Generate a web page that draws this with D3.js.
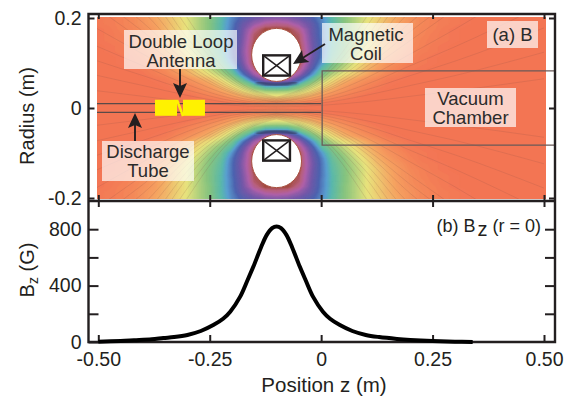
<!DOCTYPE html>
<html>
<head>
  <meta charset="utf-8">
  <title>Magnetic field</title>
  <script src="https://cdnjs.cloudflare.com/ajax/libs/d3/7.8.5/d3.min.js"></script>
<style>
body{
  margin: 0;
  background: white;
}
text{
  font-family: "Liberation Sans", Arial, sans-serif;
  fill: #231f20;
}
.axis path{
  display: none;
}
.axis line{
  stroke: #231f20;
  stroke-width: 2;
}
.axis text{
  font-size: 19.5px;
  font-family: "Liberation Sans", Arial, sans-serif;
  fill: #231f20;
}
.title{
  font-size: 20px;
}
.note{
  font-size: 18.5px;
  text-anchor: middle;
  fill: #2b2b2b;
}
.notebox{
  fill: white;
  opacity: 0.68;
}
</style>
</head>
<body>
<div id="chart"></div>
<script>
// Bz on the axis, panel (b)
var zPos = [-0.5,-0.45,-0.42,-0.38,-0.354,-0.33,-0.3,-0.27,-0.242,-0.22,-0.204,-0.182,-0.165,-0.152,-0.135,-0.122,-0.11,-0.1,-0.09,-0.078,-0.065,-0.048,-0.035,-0.018,0.004,0.02,0.042,0.07,0.1,0.13,0.17,0.2,0.25,0.3,0.34];
var bzVal = [2,7,12,19,28,35,50,78,120,165,215,320,440,535,670,760,808,820,808,760,670,535,440,320,215,165,120,78,50,35,22,15,7,2,0];

var zTicks = [-0.5,-0.25,0,0.25,0.5];
var zTickLabels = ["-0.50","-0.25","0","0.25","0.50"];
var rTicks = [-0.2,0,0.2];
var rTickLabels = ["-0.2","0","0.2"];
var bzTicks = [0,200,400,600,800];
var bzTickLabels = ["0","","400","","800"];

// colour level of |B|, one quadrant around the coil.
// columns: distance from coil plane, rows: radius
var coilZ = -0.1;
var gridStep = 0.025, rStep = 0.0125;
var levelR00 = [.03,.02,.01,0,0,0,0,0,0,0,0,0,0,0,0,0,0,0,0,0,0,0,0,0,0];
var levelR01 = [.07,.06,.05,.03,.02,.01,0,0,0,0,0,0,0,0,0,0,0,0,0,0,0,0,0,0,0];
var levelR02 = [.22,.21,.18,.14,.10,.06,.04,.02,0,0,0,0,0,0,0,0,0,0,0,0,0,0,0,0,0];
var levelR03 = [.35,.34,.30,.24,.17,.12,.08,.05,.03,.01,0,0,0,0,0,0,0,0,0,0,0,0,0,0,0];
var levelR04 = [.58,.56,.44,.33,.25,.18,.12,.08,.05,.03,.01,0,0,0,0,0,0,0,0,0,0,0,0,0,0];
var levelR05 = [.82,.80,.66,.46,.33,.24,.17,.12,.08,.05,.02,.01,0,0,0,0,0,0,0,0,0,0,0,0,0];
var levelR06 = [.90,.90,.82,.62,.42,.32,.25,.20,.14,.09,.05,.03,.01,0,0,0,0,0,0,0,0,0,0,0,0];
var levelR07 = [.95,.95,.90,.72,.50,.39,.31,.24,.17,.12,.07,.04,.02,.01,0,0,0,0,0,0,0,0,0,0,0];
var levelR08 = [.95,.95,.95,.76,.58,.43,.35,.27,.20,.14,.09,.06,.03,.02,.01,0,0,0,0,0,0,0,0,0,0];
var levelR09 = [.95,.95,.95,.78,.62,.46,.38,.30,.23,.16,.11,.07,.04,.02,.01,0,0,0,0,0,0,0,0,0,0];
var levelR10 = [.95,.95,.95,.79,.63,.48,.39,.32,.25,.18,.13,.09,.05,.03,.02,.01,0,0,0,0,0,0,0,0,0];
var levelR11 = [.95,.95,.95,.78,.63,.49,.40,.33,.26,.20,.14,.10,.06,.04,.02,.01,0,0,0,0,0,0,0,0,0];
var levelR12 = [.95,.95,.93,.77,.63,.50,.40,.33,.26,.20,.15,.10,.07,.04,.03,.02,.01,0,0,0,0,0,0,0,0];
var levelR13 = [.95,.95,.92,.76,.62,.50,.40,.33,.26,.21,.15,.11,.07,.05,.03,.02,.01,0,0,0,0,0,0,0,0];
var levelR14 = [.95,.95,.88,.75,.62,.50,.39,.33,.26,.21,.16,.11,.08,.05,.04,.02,.01,0,0,0,0,0,0,0,0];
var levelR15 = [.88,.86,.80,.73,.61,.50,.39,.33,.26,.21,.16,.12,.09,.06,.04,.03,.02,.01,0,0,0,0,0,0,0];
var levelR16 = [.78,.77,.74,.68,.60,.49,.39,.33,.27,.22,.17,.13,.09,.06,.04,.03,.02,.01,0,0,0,0,0,0,0];
var levelRows = [levelR00,levelR01,levelR02,levelR03,levelR04,levelR05,levelR06,levelR07,levelR08,levelR09,levelR10,levelR11,levelR12,levelR13,levelR14,levelR15,levelR16];

var levelStops = [0,.12,.25,.38,.5,.56,.65,.74,.84,.9,.95];
var levelColors = ["#f37453","#f5a060","#e9e37c","#88c47e","#5ab8ac","#5a9fd0","#4d62ae","#7058a8","#b060a8","#b8607c","#a04838"];

// field lines, radius at these distances from the coil plane
var lineDz = [0,0.1,0.2,0.3,0.4,0.6];
var fieldLines = [
  [.002,.006,.014,.026,.038,.065],
  [.004,.011,.028,.050,.072,.124],
  [.006,.016,.040,.072,.104,.178],
  [.008,.021,.052,.094,.136,.230],
  [.010,.027,.066,.120,.175,.300],
  [.012,.033,.082,.150,.220,.370],
  [.013,.036,.091,.170,.245,.410],
  [.014,.040,.100,.190,.270,.450],
  [.016,.044,.112,.215,.305,.505],
  [.017,.048,.125,.240,.340,.560],
  [.019,.053,.140,.270,.380,.630],
  [.020,.058,.155,.300,.420,.700],
  [.022,.064,.178,.335,.470,.775],
  [.024,.070,.200,.370,.520,.850]
];

var dx = 574, dy = 401;
var frameL = 88.5, frameR = 555, frameT = 14, frameM = 201, frameB = 342;

var svg = d3.select("#chart").append("svg")
  .attr("width", dx)
  .attr("height", dy);

var defs = svg.append("defs");
var clip = defs.append("clipPath").attr("id", "heatclip").append("rect");
defs.append("filter").attr("id", "soft")
  .append("feGaussianBlur").attr("stdDeviation", 0.9);
defs.append("filter").attr("id", "softer")
  .append("feGaussianBlur").attr("stdDeviation", 0.5);

var z = d3.scaleLinear().domain([-0.5,0.5]).range([98.3,544]);
var r = d3.scaleLinear().domain([-0.2,0.2]).range([198,18]);
var bz = d3.scaleLinear().domain([0,1000]).range([frameB,frameM]);

var heatL = 97, heatR = 546;
clip.attr("x", heatL).attr("y", r(0.2)-1)
  .attr("width", heatR-heatL).attr("height", r(-0.2)-r(0.2)+2);

// full grid from the quadrant
var nCols = 41, nRows = 33;
var grid = [];
for (var j = 0; j < nRows; j++) {
  for (var i = 0; i < nCols; i++) {
    var zi = -0.5 + i*gridStep;
    grid.push(levelRows[Math.abs(j-16)][Math.round(Math.abs(zi-coilZ)/gridStep)]);
  }
}

var color = d3.scaleLinear().domain(levelStops).range(levelColors).clamp(true);
var contours = d3.contours().size([nCols,nRows]).thresholds(d3.range(0.005,0.96,0.01))(grid);
var gridPath = d3.geoPath(d3.geoTransform({
  point: function (x, y) {
    this.stream.point(z(-0.5+(x-0.5)*gridStep), r(0.2-(y-0.5)*rStep));
  }
}));

var heat = svg.append("g").attr("clip-path", "url(#heatclip)");
var heatInner = heat.append("g").attr("filter", "url(#softer)");
heatInner.append("rect")
  .attr("x", heatL-5).attr("y", r(0.2)-5)
  .attr("width", heatR-heatL+10).attr("height", r(-0.2)-r(0.2)+10)
  .attr("fill", color(0));
heatInner.selectAll(".band")
  .data(contours)
  .enter().append("path")
  .attr("class", "band")
  .attr("d", gridPath)
  .attr("fill", d => color(d.value))
  .attr("stroke", d => color(d.value))
  .attr("stroke-width", 0.4);

// field lines, all four quadrants
var lineGen = d3.line().curve(d3.curveMonotoneX);
[-1,1].forEach(function (side) {
  [-1,1].forEach(function (up) {
    heat.selectAll(null)
      .data(fieldLines)
      .enter().append("path")
      .attr("d", d => lineGen(d.map((v,k) => [z(coilZ+side*lineDz[k]), r(up*v)])))
      .attr("fill", "none")
      .attr("stroke", "#7a4a44")
      .attr("stroke-width", 0.5)
      .attr("opacity", 0.32);
  });
});

// dark rim on the axis side of the coils
var rimDz = [-0.046,-0.03,-0.015,0,0.015,0.03,0.046];
var rimR = [0.057,0.054,0.052,0.0515,0.052,0.054,0.057];
[-1,1].forEach(function (up) {
  heat.append("path")
    .attr("d", d3.line().curve(d3.curveCatmullRom)(rimDz.map((v,k) => [z(coilZ+v), r(up*rimR[k])])))
    .attr("fill", "none")
    .attr("stroke", "#2c2238")
    .attr("stroke-width", 3)
    .attr("opacity", 0.55)
    .attr("filter", "url(#soft)");

  // saturated hole round the coil
  heat.append("ellipse")
    .attr("cx", z(coilZ)).attr("cy", r(up*0.118))
    .attr("rx", z(0.056)-z(0)).attr("ry", r(0)-r(0.059))
    .attr("fill", "white")
    .attr("stroke", "#a85040")
    .attr("stroke-width", 1)
    .attr("filter", "url(#softer)");
});

// discharge tube and vacuum chamber
var tubeR = 0.0098, chamberR = 0.0825;
[-1,1].forEach(function (up) {
  svg.append("line")
    .attr("x1", heatL).attr("x2", z(0))
    .attr("y1", r(up*tubeR)).attr("y2", r(up*tubeR))
    .attr("stroke", "#5a4a48").attr("stroke-width", 1.2);
});
svg.append("path")
  .attr("d", d3.line()([[frameR,r(chamberR)],[z(0)+1,r(chamberR)],[z(0)+1,r(-chamberR)],[frameR,r(-chamberR)]]))
  .attr("fill", "none")
  .attr("stroke", "#6a5a58")
  .attr("stroke-width", 1.3);

// double loop antenna
var antZ = [-0.3728,-0.3234,-0.31,-0.2607];
var antR = 0.0178, antMidR = 0.0005;
svg.append("rect")
  .attr("x", z(antZ[0])).attr("y", r(antR+antMidR))
  .attr("width", z(antZ[1])-z(antZ[0])).attr("height", r(-antR)-r(antR))
  .attr("fill", "#fff200");
svg.append("rect")
  .attr("x", z(antZ[2])).attr("y", r(antR+antMidR))
  .attr("width", z(antZ[3])-z(antZ[2])).attr("height", r(-antR)-r(antR))
  .attr("fill", "#fff200");
svg.append("line")
  .attr("x1", z(antZ[1])).attr("x2", z(antZ[2]))
  .attr("y1", r(antR)).attr("y2", r(-antR))
  .attr("stroke", "#fff200").attr("stroke-width", 2.5);

// magnetic coil boxes
var coilHalf = 0.03, coilIn = 0.072, coilOut = 0.117;
[-1,1].forEach(function (up) {
  var x0 = z(coilZ-coilHalf), x1 = z(coilZ+coilHalf);
  var y0 = r(up*coilOut), y1 = r(up*coilIn);
  var g = svg.append("g").attr("stroke", "#231f20").attr("stroke-width", 2.4);
  g.append("rect")
    .attr("x", x0).attr("y", Math.min(y0,y1))
    .attr("width", x1-x0).attr("height", Math.abs(y1-y0))
    .attr("fill", "white");
  g.append("line").attr("x1", x0).attr("x2", x1).attr("y1", y0).attr("y2", y1).attr("stroke-width", 1.6);
  g.append("line").attr("x1", x0).attr("x2", x1).attr("y1", y1).attr("y2", y0).attr("stroke-width", 1.6);
});

// boxed notes
function note(lines, cx, baselines, box) {
  svg.append("rect")
    .attr("class", "notebox")
    .attr("x", box[0]).attr("y", box[1])
    .attr("width", box[2]-box[0]).attr("height", box[3]-box[1]);
  lines.forEach(function (s, k) {
    svg.append("text")
      .attr("class", "note")
      .attr("x", cx).attr("y", baselines[k])
      .text(s);
  });
}
note(["Double Loop","Antenna"], 181, [47.5,66.5], [124,30,237,69]);
note(["Magnetic","Coil"], 366, [41,60], [322,23,413,63]);
note(["(a) B"], 512.5, [41], [487,21,538,48]);
note(["Vacuum","Chamber"], 470.5, [105,124], [425,88,516,127]);
note(["Discharge","Tube"], 148, [158,177], [102,141,194,181]);

// arrows
function arrow(x0, y0, x1, y1) {
  var a = Math.atan2(y1-y0, x1-x0);
  var p = (d, s) => [x1-d*Math.cos(a)-s*Math.sin(a), y1-d*Math.sin(a)+s*Math.cos(a)];
  svg.append("line")
    .attr("x1", x0).attr("y1", y0)
    .attr("x2", p(9,0)[0]).attr("y2", p(9,0)[1])
    .attr("stroke", "#231f20").attr("stroke-width", 1.9);
  svg.append("path")
    .attr("d", d3.line()([[x1,y1],p(15,7),p(12,0),p(15,-7)])+"Z")
    .attr("fill", "#231f20");
}
arrow(180,69,180,98);
arrow(325,44,293,64);
arrow(135,141,135,113);

// frames
svg.append("path")
  .attr("d", `M${frameL},${frameT}H${frameR}V${frameB}H${frameL}Z`)
  .attr("fill", "none").attr("stroke", "#231f20").attr("stroke-width", 2.4);
svg.append("line")
  .attr("x1", frameL).attr("x2", frameR).attr("y1", frameM).attr("y2", frameM)
  .attr("stroke", "#231f20").attr("stroke-width", 2.4);

function zLabel(d) { return zTickLabels[zTicks.indexOf(d)]; }

svg.append("g").attr("class","axis").attr("transform",`translate(0,${frameT})`)
  .call(d3.axisTop(z).tickValues(zTicks).tickSize(-5).tickFormat(""));
svg.append("g").attr("class","axis").attr("transform",`translate(0,${frameM})`)
  .call(d3.axisBottom(z).tickValues(zTicks).tickSize(-6).tickFormat(""));
svg.append("g").attr("class","axis").attr("transform",`translate(0,${frameM})`)
  .call(d3.axisTop(z).tickValues(zTicks).tickSize(-6).tickFormat(""));
svg.append("g").attr("class","axis").attr("transform",`translate(0,${frameB})`)
  .call(d3.axisBottom(z).tickValues(zTicks).tickSize(-7).tickPadding(10.5).tickFormat(zLabel));

svg.append("g").attr("class","axis").attr("transform",`translate(${frameL},0)`)
  .call(d3.axisLeft(r).tickValues(rTicks).tickSize(-6).tickPadding(7).tickFormat(d => rTickLabels[rTicks.indexOf(d)]));
svg.append("g").attr("class","axis").attr("transform",`translate(${frameR},0)`)
  .call(d3.axisRight(r).tickValues(rTicks).tickSize(-6).tickFormat(""));

svg.append("g").attr("class","axis").attr("transform",`translate(${frameL},0)`)
  .call(d3.axisLeft(bz).tickValues(bzTicks).tickSize(-10).tickPadding(7).tickFormat(d => bzTickLabels[bzTicks.indexOf(d)]));
svg.append("g").attr("class","axis").attr("transform",`translate(${frameR},0)`)
  .call(d3.axisRight(bz).tickValues(bzTicks.slice(1)).tickSize(-10).tickFormat(""));

// Bz curve
svg.append("path")
  .datum(zPos.map((v,k) => [v,bzVal[k]]))
  .attr("d", d3.line().x(d => z(d[0])).y(d => bz(d[1])).curve(d3.curveCatmullRom))
  .attr("fill", "none")
  .attr("stroke", "black")
  .attr("stroke-width", 4);

// titles
svg.append("text")
  .attr("class","title")
  .attr("transform","translate(34,116) rotate(-90)")
  .attr("text-anchor","middle")
  .text("Radius (m)");
var bzTitle = svg.append("text")
  .attr("class","title")
  .attr("transform","translate(34,270) rotate(-90)")
  .attr("text-anchor","middle");
bzTitle.append("tspan").text("B");
bzTitle.append("tspan").attr("dy",4).attr("font-size",14).text("z");
bzTitle.append("tspan").attr("dy",-4).text(" (G)");
svg.append("text")
  .attr("class","title")
  .attr("x",324).attr("y",392)
  .attr("text-anchor","middle")
  .style("font-size","20.5px")
  .text("Position z (m)");

var bLabel = svg.append("text")
  .attr("x",541).attr("y",232)
  .attr("text-anchor","end")
  .style("font-size","18px")
  .attr("fill","#2b2b2b");
bLabel.append("tspan").text("(b) B");
bLabel.append("tspan").attr("dy",4).attr("dx",2).style("font-size","20px").text("z");
bLabel.append("tspan").attr("dy",-4).text(" (r = 0)");
</script>
</body>
</html>
